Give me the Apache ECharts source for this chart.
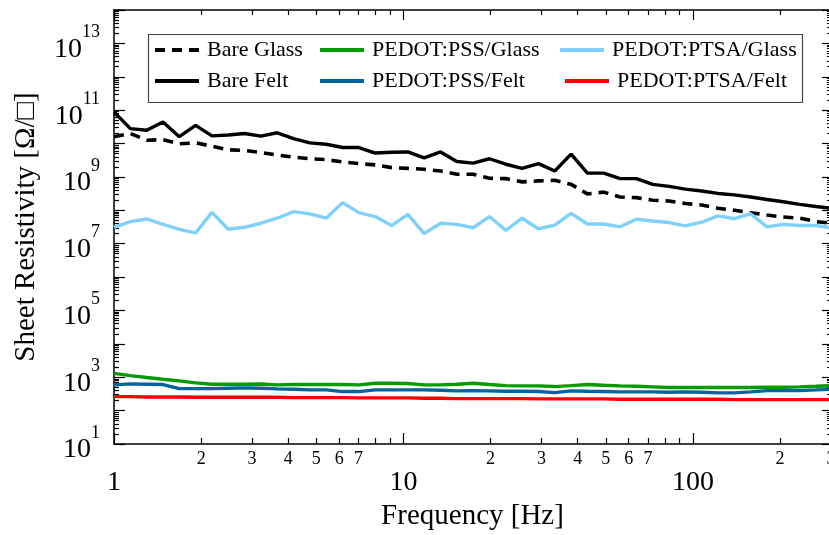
<!DOCTYPE html>
<html><head><meta charset="utf-8">
<script src="https://cdn.jsdelivr.net/npm/echarts@6/dist/echarts.min.js"></script>
<style>html,body{margin:0;padding:0;background:#fff}#c{width:829px;height:535px}</style>
</head><body><div id="c"></div>
<script>
// ---- data ----
const freqHz = [1, 1.139, 1.297, 1.477, 1.681, 1.914, 2.180, 2.482, 2.826, 3.218, 3.664, 4.173, 4.751, 5.410, 6.160, 7.015, 7.987, 9.095, 10.36, 11.79, 13.43, 15.29, 17.41, 19.83, 22.57, 25.70, 29.27, 33.33, 37.95, 43.21, 49.20, 56.03, 63.80, 72.64, 82.72, 94.19, 107.3, 122.1, 139.1, 158.3, 180.3, 205.3, 233.8, 266.2, 300];
const bareGlass = [1.6e10, 2.0e10, 1.26e10, 1.3e10, 9.8e9, 1.05e10, 8.3e9, 6.5e9, 6.2e9, 5.4e9, 4.5e9, 3.9e9, 3.5e9, 3.3e9, 2.8e9, 2.5e9, 2.3e9, 1.9e9, 1.8e9, 1.7e9, 1.5e9, 1.2e9, 1.2e9, 9.1e8, 8.9e8, 7.1e8, 7.6e8, 7.9e8, 6.0e8, 3.1e8, 3.5e8, 2.5e8, 2.4e8, 2.0e8, 1.9e8, 1.6e8, 1.45e8, 1.15e8, 1.0e8, 8.5e7, 7.2e7, 6.3e7, 5.8e7, 4.6e7, 4.1e7];
const bareFelt = [8.9e10, 2.8e10, 2.5e10, 4.4e10, 1.6e10, 3.5e10, 1.7e10, 1.8e10, 2.0e10, 1.66e10, 2.1e10, 1.4e10, 1.05e10, 9.5e9, 7.6e9, 7.6e9, 5.2e9, 5.5e9, 5.6e9, 3.7e9, 5.6e9, 2.9e9, 2.6e9, 3.5e9, 2.4e9, 1.8e9, 2.5e9, 1.5e9, 4.8e9, 1.3e9, 1.3e9, 8.9e8, 8.9e8, 6.0e8, 5.2e8, 4.3e8, 3.8e8, 3.2e8, 2.9e8, 2.5e8, 2.1e8, 1.8e8, 1.5e8, 1.3e8, 1.15e8];
const pssGlass = [1.3e3, 1.12e3, 980, 870, 780, 680, 617, 617, 617, 630, 589, 603, 603, 603, 603, 589, 661, 661, 646, 589, 589, 617, 661, 603, 562, 550, 550, 525, 562, 603, 575, 550, 537, 513, 490, 490, 490, 490, 490, 490, 501, 501, 513, 537, 562];
const pssFelt = [589, 631, 617, 603, 457, 457, 457, 468, 479, 468, 447, 437, 417, 417, 372, 372, 417, 417, 417, 417, 407, 389, 398, 389, 380, 380, 372, 347, 389, 380, 372, 363, 363, 363, 355, 363, 355, 339, 339, 363, 398, 398, 398, 417, 437];
const ptsaGlass = [3.1e7, 4.6e7, 5.5e7, 3.8e7, 2.7e7, 2.1e7, 8.7e7, 2.7e7, 3.1e7, 4.1e7, 5.8e7, 9.1e7, 7.8e7, 5.8e7, 1.7e8, 8.5e7, 6.5e7, 3.5e7, 7.6e7, 2.0e7, 4.1e7, 3.8e7, 3.0e7, 6.5e7, 2.5e7, 5.8e7, 2.8e7, 3.6e7, 8.1e7, 3.9e7, 3.9e7, 3.2e7, 5.4e7, 4.8e7, 4.3e7, 3.4e7, 4.4e7, 6.8e7, 5.6e7, 7.8e7, 3.2e7, 3.8e7, 3.5e7, 3.5e7, 3.0e7];
const ptsaFelt = [263, 263, 257, 257, 257, 251, 251, 251, 251, 251, 251, 245, 245, 245, 245, 240, 240, 240, 240, 234, 234, 229, 229, 229, 229, 229, 224, 224, 224, 224, 224, 219, 219, 219, 219, 219, 219, 219, 214, 214, 214, 214, 214, 214, 214];

const seriesNames = ['Bare Glass', 'Bare Felt', 'PEDOT:PSS/Glass', 'PEDOT:PSS/Felt', 'PEDOT:PTSA/Glass', 'PEDOT:PTSA/Felt'];
const xMajorLabels = [1, 10, 100];
const xMinorLabels = [2, 3, 4, 5, 6, 7, 20, 30, 40, 50, 60, 70, 200, 300];
const yLabelValues = [1e1, 1e3, 1e5, 1e7, 1e9, 1e11, 1e13];
const xTitle = 'Frequency [Hz]';
const yTitle = 'Sheet Resistivity [Ω/□]';

// ---- tick positions ----
const xMinorTicks = [2,3,4,5,6,7,8,9,20,30,40,50,60,70,80,90,200,300];
const yMajorTicks = [], yMinorTicks = [];
for (let e = 1; e <= 14; e++) yMajorTicks.push(Math.pow(10, e));
for (let e = 1; e <= 13; e++) for (let m = 2; m <= 9; m++) yMinorTicks.push(m * Math.pow(10, e));

const FONT = '"Liberation Serif", "Times New Roman", serif';
const X_MIN = 1, X_MAX = 300, Y_MIN = 10, Y_MAX = 1e14;

function xAx(pos, ticks, len, label, line, extra) {
  return Object.assign({
    type: 'log', logBase: 10, min: X_MIN, max: X_MAX, position: pos,
    axisLine: { show: line, onZero: false, lineStyle: { color: '#000', width: 1.5 } },
    axisTick: { show: true, inside: true, length: len, customValues: ticks, lineStyle: { color: '#000', width: 1.2 } },
    axisLabel: label || { show: false },
    splitLine: { show: false }, minorTick: { show: false }, minorSplitLine: { show: false }
  }, extra || {});
}
function yAx(pos, ticks, len, label, line, extra) {
  return Object.assign({
    type: 'log', logBase: 10, min: Y_MIN, max: Y_MAX, position: pos,
    axisLine: { show: line, onZero: false, lineStyle: { color: '#000', width: 1.5 } },
    axisTick: { show: true, inside: true, length: len, customValues: ticks, lineStyle: { color: '#000', width: 1.2 } },
    axisLabel: label || { show: false },
    splitLine: { show: false }, minorTick: { show: false }, minorSplitLine: { show: false }
  }, extra || {});
}

const xAxes = [
  xAx('bottom', xMajorLabels, 11, {
    show: true, customValues: xMajorLabels, margin: 25,
    fontFamily: FONT, fontSize: 28, color: '#000',
    formatter: v => String(Math.round(v))
  }, true, {
    name: xTitle, nameLocation: 'middle', nameGap: 57,
    nameTextStyle: { fontFamily: FONT, fontSize: 29, color: '#000' }
  }),
  xAx('bottom', xMinorTicks, 6, {
    show: true, customValues: xMinorLabels, margin: 6,
    fontFamily: FONT, fontSize: 18, color: '#000',
    formatter: v => String(Math.round(v / Math.pow(10, Math.floor(Math.log10(v) + 1e-9))))
  }, false),
  xAx('top', xMajorLabels, 10, null, true),
  xAx('top', xMinorTicks, 5, null, false)
];
const yAxes = [
  yAx('left', yMajorTicks, 11, {
    show: true, customValues: yLabelValues, margin: 14,
    formatter: v => '{b|10}{s|' + Math.round(Math.log10(v)) + '}',
    rich: {
      b: { fontFamily: FONT, fontSize: 28, color: '#000', padding: [12, 0, 0, 0] },
      s: { fontFamily: FONT, fontSize: 18, color: '#000', verticalAlign: 'top' }
    }
  }, true, {
    name: yTitle, nameLocation: 'middle', nameGap: 73,
    nameTextStyle: { fontFamily: FONT, fontSize: 29, color: '#000' }
  }),
  yAx('left', yMinorTicks, 5, null, false),
  yAx('right', yMajorTicks, 9, null, true),
  yAx('right', yMinorTicks, 4, null, false)
];

const styles = {
  'Bare Glass': { color: '#000000', type: [10, 7], width: 3.6 },
  'Bare Felt': { color: '#000000', type: 'solid', width: 3.4 },
  'PEDOT:PSS/Glass': { color: '#079a07', type: 'solid', width: 3.4 },
  'PEDOT:PSS/Felt': { color: '#04649c', type: 'solid', width: 3.4 },
  'PEDOT:PTSA/Glass': { color: '#7fd0fa', type: 'solid', width: 3.4 },
  'PEDOT:PTSA/Felt': { color: '#ff0000', type: 'solid', width: 3.4 }
};
const values = {
  'Bare Glass': bareGlass, 'Bare Felt': bareFelt,
  'PEDOT:PSS/Glass': pssGlass, 'PEDOT:PSS/Felt': pssFelt,
  'PEDOT:PTSA/Glass': ptsaGlass, 'PEDOT:PTSA/Felt': ptsaFelt
};
const series = seriesNames.map(n => ({
  name: n, type: 'line', xAxisIndex: 0, yAxisIndex: 0,
  data: freqHz.map((f, i) => [f, values[n][i]]),
  showSymbol: false, symbol: 'none', smooth: false, clip: true,
  lineStyle: styles[n], itemStyle: { color: styles[n].color },
  emphasis: { disabled: true }, animation: false
}));

const legendPos = [
  ['Bare Glass', 153, 39], ['PEDOT:PSS/Glass', 318, 39], ['PEDOT:PTSA/Glass', 558, 39],
  ['Bare Felt', 153, 70], ['PEDOT:PSS/Felt', 318, 70], ['PEDOT:PTSA/Felt', 563, 70]
];
const legends = legendPos.map(([n, l, t]) => ({
  data: [n], left: l, top: t, padding: 0, itemGap: 0,
  itemWidth: 44, itemHeight: 14, selectedMode: false,
  itemStyle: { opacity: 0, borderWidth: 0 },
  lineStyle: { width: 4 },
  textStyle: { fontFamily: FONT, fontSize: 22, color: '#000', padding: [0, 0, 0, 3] }
}));

const chart = echarts.init(document.getElementById('c'), null, { renderer: 'canvas' });
chart.setOption({
  animation: false,
  backgroundColor: '#fff',
  grid: { left: 114, right: -2, top: 10, bottom: 91, containLabel: false, outerBoundsMode: 'none' },
  xAxis: xAxes,
  yAxis: yAxes,
  legend: legends,
  graphic: [{
    type: 'rect', shape: { x: 148.5, y: 34.5, width: 654, height: 68 },
    style: { fill: 'transparent', stroke: '#444', lineWidth: 1.2 }, z: 100, silent: true
  }],
  series: series
});
</script></body></html>
